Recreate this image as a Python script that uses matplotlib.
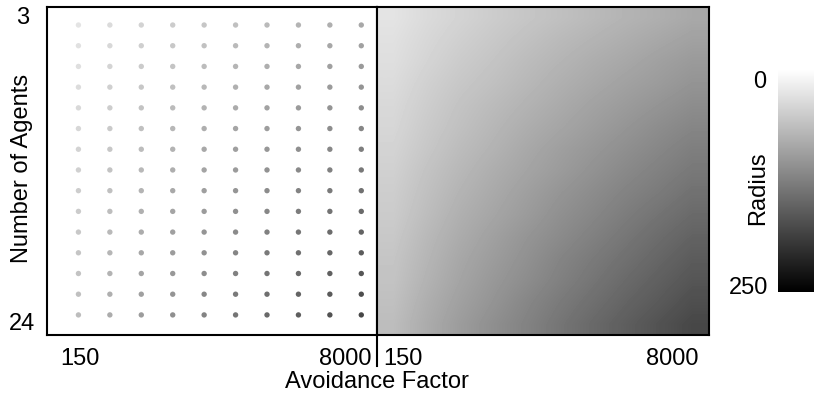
import matplotlib
matplotlib.use("Agg")
import matplotlib.pyplot as plt
import numpy as np
from matplotlib.lines import Line2D

plt.rcParams['font.family'] = ['Liberation Sans', 'DejaVu Sans']

# avoidance factor (columns) and number of agents (rows)
avoidance = [150, 1022, 1894, 2767, 3639, 4511, 5383, 6256, 7128, 8000]
agents = [3, 4.5, 6, 7.5, 9, 10.5, 12, 13.5, 15, 16.5, 18, 19.5, 21, 22.5, 24]
x_tick_labels = ['150', '8000']
y_tick_labels = ['3', '24']

# radius per (agents row, avoidance column)
radius = [
    [27, 36, 43, 50, 56, 62, 68, 74, 79, 85],
    [30, 39, 47, 54, 61, 68, 74, 80, 86, 92],
    [32, 42, 51, 58, 66, 73, 80, 86, 93, 99],
    [35, 46, 55, 62, 70, 78, 85, 92, 98, 105],
    [38, 49, 59, 67, 75, 83, 91, 98, 105, 112],
    [40, 52, 62, 71, 80, 88, 96, 104, 112, 119],
    [43, 55, 66, 75, 85, 94, 102, 110, 118, 126],
    [46, 59, 70, 80, 89, 98, 107, 116, 124, 132],
    [49, 62, 74, 84, 94, 104, 113, 122, 130, 139],
    [51, 65, 78, 88, 98, 109, 118, 128, 137, 146],
    [54, 69, 82, 93, 104, 114, 124, 134, 144, 153],
    [57, 72, 86, 97, 108, 120, 130, 140, 150, 160],
    [59, 75, 89, 101, 112, 124, 135, 146, 156, 166],
    [62, 79, 93, 105, 118, 130, 141, 152, 162, 173],
    [65, 82, 97, 110, 122, 135, 147, 158, 169, 180],
]
r_min, r_max = 0, 250

W, H = 814, 396
fig = plt.figure(figsize=(W / 100, H / 100), dpi=100)
fs = 17

def fx(px):
    return px / W

def fy(py):
    return 1 - py / H

R = np.array(radius, dtype=float)
n_rows, n_cols = R.shape

# left panel: dot grid
ax1 = fig.add_axes([fx(47), fy(335), fx(377) - fx(47), fy(7) - fy(335)])
cols, rows = np.meshgrid(np.arange(n_cols), np.arange(n_rows))
ax1.scatter(cols.ravel(), rows.ravel(), c=R.ravel(), cmap='gray_r',
            vmin=r_min, vmax=r_max, s=15, linewidths=0)
ax1.set_xlim(-1, n_cols - 0.5)
ax1.set_ylim(n_rows - 1 + 0.97, -0.87)
ax1.set_xticks([])
ax1.set_yticks([])
ax1.text(0.1, -0.04, x_tick_labels[0], transform=ax1.transAxes,
         ha='center', va='top', fontsize=fs)
ax1.text(0.982, -0.04, x_tick_labels[1], transform=ax1.transAxes,
         ha='right', va='top', fontsize=fs)
ax1.text(-0.075, 0.965, y_tick_labels[0], transform=ax1.transAxes,
         ha='center', va='center', fontsize=fs)
ax1.text(-0.075, 0.035, y_tick_labels[1], transform=ax1.transAxes,
         ha='center', va='center', fontsize=fs)

# right panel: smooth surface
ax2 = fig.add_axes([fx(377), fy(335), fx(709) - fx(377), fy(7) - fy(335)])
ax2.imshow(R, cmap='gray_r', vmin=r_min, vmax=r_max, aspect='auto',
           interpolation='bilinear', extent=[0, 1, 1, 0])
ax2.set_xticks([])
ax2.set_yticks([])
ax2.text(0.018, -0.04, x_tick_labels[0], transform=ax2.transAxes,
         ha='left', va='top', fontsize=fs)
ax2.text(0.967, -0.04, x_tick_labels[1], transform=ax2.transAxes,
         ha='right', va='top', fontsize=fs)

for ax in (ax1, ax2):
    for sp in ax.spines.values():
        sp.set_linewidth(1.5)

# divider going below the panels
fig.add_artist(Line2D([fx(377), fx(377)], [fy(335), fy(366)],
                      color='black', linewidth=1.5))

fig.text(fx(377), fy(382), 'Avoidance Factor', ha='center', va='center', fontsize=fs)
fig.text(fx(22), fy(168), 'Number of Agents', ha='center', va='center',
         rotation=90, fontsize=fs)

# colour bar
cax = fig.add_axes([fx(778), fy(292), fx(814) - fx(778), fy(70) - fy(292)])
grad = np.linspace(r_min, r_max, 256).reshape(-1, 1)
cax.imshow(grad, cmap='gray_r', vmin=r_min, vmax=r_max, aspect='auto',
           extent=[0, 1, r_max, r_min])
cax.axis('off')
fig.text(fx(766), fy(82), str(r_min), ha='right', va='center', fontsize=fs)
fig.text(fx(768), fy(288), str(r_max), ha='right', va='center', fontsize=fs)
fig.text(fx(758), fy(188), 'Radius', ha='center', va='center',
         rotation=90, fontsize=fs)

fig.savefig('out.png', dpi=100)
